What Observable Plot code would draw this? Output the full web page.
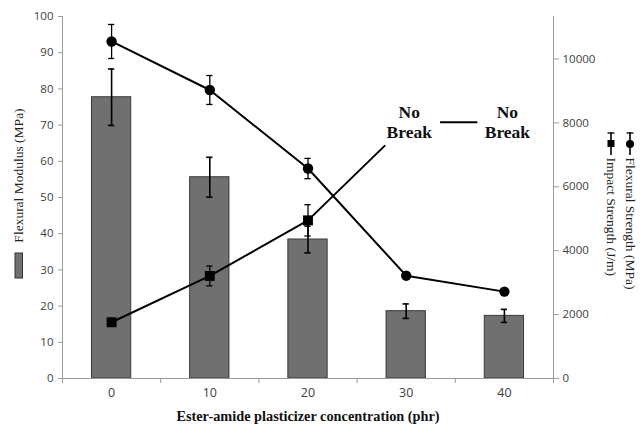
<!DOCTYPE html>
<html>
<head>
<meta charset="utf-8">
<script src="https://cdn.jsdelivr.net/npm/d3@7"></script>
<script src="https://cdn.jsdelivr.net/npm/@observablehq/plot@0.6"></script>
<style>
  body { margin: 0; background: #fff; }
  #chart { width: 640px; height: 429px; }
</style>
</head>
<body>
<div id="chart"></div>
<script>
// Plasticizer concentration (phr)
const concentration = [0, 10, 20, 30, 40];
// Flexural modulus (MPa), bars, left axis
const flexuralModulus = [77.7, 55.6, 38.4, 18.6, 17.3];
const flexuralModulusErr = [7.8, 5.5, 3.7, 2.0, 1.8];
// Flexural strength (MPa), circles, left axis
const flexuralStrength = [93.1, 79.7, 58.0, 28.4, 24.0];
const flexuralStrengthErr = [4.7, 4.0, 2.8, 0.6, 0.5];
// Impact strength (J/m), squares, right axis (no break from 30 phr on)
const impactConcentration = [0, 10, 20];
const impactStrength = [1760, 3210, 4950];
const impactStrengthErr = [120, 310, 490];
// "No Break" annotation
const noBreakAt = [30, 40];
const noBreakLevel = 8050;
const noBreakLeader = { x: 27.8, y: 7280 };
const noBreakLink = [33.5, 37.3];
const noBreakLinkLevel = 8020;
// Axis ticks
const leftTicks = [0, 10, 20, 30, 40, 50, 60, 70, 80, 90, 100];
const rightTicks = [0, 2000, 4000, 6000, 8000, 10000];
const rightMax = 11330;
const xTicks = [0, 10, 20, 30, 40];
const xBoundaries = [-5, 5, 15, 25, 35, 45];

// The right axis (J/m) is drawn on the left (MPa) y scale.
const toLeft = v => v * 100 / rightMax;

const modRows = concentration.map((c, i) => ({ c, m: flexuralModulus[i], e: flexuralModulusErr[i] }));
const strRows = concentration.map((c, i) => ({ c, s: flexuralStrength[i], e: flexuralStrengthErr[i] }));
const impRows = impactConcentration.map((c, i) => ({ c, v: toLeft(impactStrength[i]), e: toLeft(impactStrengthErr[i]) }));
const impLine = [...impRows.map(d => ({ c: d.c, v: d.v })), { c: noBreakLeader.x, v: toLeft(noBreakLeader.y) }];

const halfBar = 2;
const capHalf = 0.32;
const caps = (rows, key) => rows.flatMap(d => [
  { c: d.c, y: d[key] - d.e },
  { c: d.c, y: d[key] + d.e }
]);

const serif = "Liberation Serif, Times New Roman, serif";
const axisGray = "#9a9a9a";
const labelColor = "#404040";

const svg = Plot.plot({
  width: 640,
  height: 429,
  marginLeft: 62,
  marginRight: 87,
  marginTop: 16,
  marginBottom: 51,
  style: { fontFamily: "Open Sans, sans-serif", fontSize: "11.5px", background: "#fff", overflow: "visible" },
  x: { type: "linear", domain: [-5, 45] },
  y: { domain: [0, 100] },
  marks: [
    // bars
    Plot.rectY(modRows, { x1: d => d.c - halfBar, x2: d => d.c + halfBar, y: "m", fill: "#707070", stroke: "#3a3a3a", strokeWidth: 1 }),
    // bar error bars
    Plot.ruleX(modRows, { x: "c", y1: d => d.m - d.e, y2: d => d.m + d.e, stroke: "#000", strokeWidth: 1.6 }),
    Plot.ruleY(caps(modRows, "m"), { y: "y", x1: d => d.c - capHalf, x2: d => d.c + capHalf, stroke: "#000", strokeWidth: 1.6 }),

    // axis lines
    Plot.ruleX([-5, 45], { stroke: axisGray, strokeWidth: 1 }),
    Plot.ruleY([0], { stroke: axisGray, strokeWidth: 1 }),

    // flexural strength line
    Plot.line(strRows, { x: "c", y: "s", stroke: "#000", strokeWidth: 2 }),
    Plot.ruleX(strRows, { x: "c", y1: d => d.s - d.e, y2: d => d.s + d.e, stroke: "#000", strokeWidth: 1.3 }),
    Plot.ruleY(caps(strRows, "s"), { y: "y", x1: d => d.c - capHalf, x2: d => d.c + capHalf, stroke: "#000", strokeWidth: 1.3 }),
    Plot.dot(strRows, { x: "c", y: "s", r: 5.2, fill: "#000", stroke: "none" }),

    // impact strength line
    Plot.line(impLine, { x: "c", y: "v", stroke: "#000", strokeWidth: 2 }),
    Plot.ruleX(impRows, { x: "c", y1: d => d.v - d.e, y2: d => d.v + d.e, stroke: "#000", strokeWidth: 1.3 }),
    Plot.ruleY(caps(impRows, "v"), { y: "y", x1: d => d.c - capHalf, x2: d => d.c + capHalf, stroke: "#000", strokeWidth: 1.3 }),
    Plot.dot(impRows, { x: "c", y: "v", symbol: "square", r: 5.6, fill: "#000", stroke: "none" }),

    // "No Break" annotation
    Plot.text(noBreakAt, { x: d => d, y: toLeft(noBreakLevel), dx: 3, text: () => "No\nBreak", lineHeight: 1.15, fontFamily: serif, fontWeight: "bold", fontSize: 17.5, fill: "#111" }),
    Plot.ruleY([toLeft(noBreakLinkLevel)], { x1: noBreakLink[0], x2: noBreakLink[1], stroke: "#000", strokeWidth: 2 }),

    // left axis
    Plot.axisY({ anchor: "left", ticks: leftTicks, tickSize: 4, tickPadding: 5, label: null, stroke: axisGray, fill: labelColor }),
    // right axis (J/m)
    Plot.axisY({ anchor: "right", ticks: rightTicks.map(toLeft), tickFormat: (d, i) => String(rightTicks[i]), tickSize: 5, tickPadding: 4, label: null, stroke: axisGray, fill: labelColor }),
    // x axis: ticks between categories, labels under categories
    Plot.axisX({ ticks: xBoundaries, tickSize: 5, tickFormat: () => "", label: null, stroke: axisGray }),
    Plot.axisX({ ticks: xTicks, tickSize: 0, tickPadding: 10, fontSize: 12.5, label: null, fill: labelColor }),

    // axis titles and legends
    Plot.text(["Ester-amide plasticizer concentration (phr)"], { frameAnchor: "bottom", dy: 42, text: d => d, fontFamily: serif, fontWeight: "bold", fontSize: 14.3, fill: "#111" }),
    Plot.text(["Flexural Modulus (MPa)"], { frameAnchor: "left", dx: -44, dy: -22, rotate: -90, textAnchor: "middle", text: d => d, fontFamily: serif, fontSize: 13.5, fill: "#222" }),
    Plot.text(["Flexural Strength (MPa)"], { frameAnchor: "right", dx: 77, dy: -40, rotate: 90, textAnchor: "start", text: d => d, fontFamily: serif, fontSize: 13.5, fill: "#222" }),
    Plot.text(["Impact Strength (J/m)"], { frameAnchor: "right", dx: 58, dy: -40, rotate: 90, textAnchor: "start", text: d => d, fontFamily: serif, fontSize: 13.5, fill: "#222" })
  ]
});

// legend glyphs
const g = d3.select(svg).append("g");
g.append("rect").attr("x", 15).attr("y", 253).attr("width", 7.5).attr("height", 25)
  .attr("fill", "#707070").attr("stroke", "#333").attr("stroke-width", 1);
[[630, "circle"], [611, "square"]].forEach(([x, kind]) => {
  g.append("line").attr("x1", x).attr("x2", x).attr("y1", 132).attr("y2", 155).attr("stroke", "#000").attr("stroke-width", 1.6);
  g.append("line").attr("x1", x - 3.5).attr("x2", x + 3.5).attr("y1", 133).attr("y2", 133).attr("stroke", "#000").attr("stroke-width", 1.3);
  if (kind === "circle") g.append("circle").attr("cx", x).attr("cy", 144).attr("r", 4).attr("fill", "#000");
  else g.append("rect").attr("x", x - 3.5).attr("y", 140).attr("width", 7).attr("height", 7).attr("fill", "#000");
});

document.getElementById("chart").append(svg);
</script>
</body>
</html>
